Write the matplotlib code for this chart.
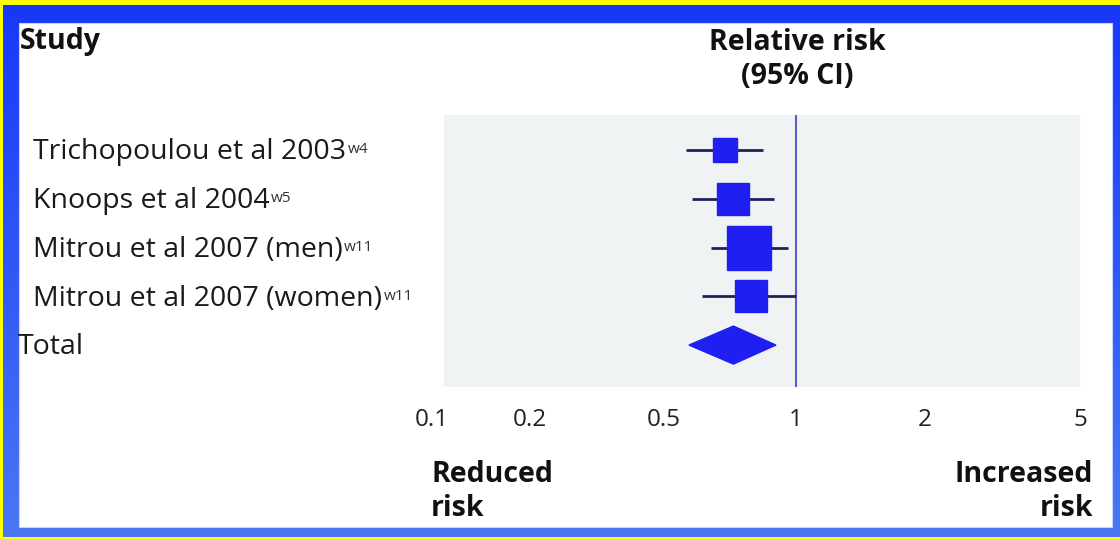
import numpy as np
import matplotlib
matplotlib.use("Agg")
import matplotlib.pyplot as plt
from matplotlib.patches import Rectangle, Polygon

# study rows: relative risk with 95% CI and % weight
studies = ["Trichopoulou et al 2003", "Knoops et al 2004",
           "Mitrou et al 2007 (men)", "Mitrou et al 2007 (women)"]
refs = ["w4", "w5", "w11", "w11"]
rr = [0.69, 0.72, 0.78, 0.79]
ci_low = [0.56, 0.58, 0.64, 0.61]
ci_high = [0.84, 0.89, 0.96, 1.00]
weights = [12.3, 23.2, 41.3, 23.2]

total_rr = 0.72
total_low = 0.57
total_high = 0.90

ticks = [0.1, 0.2, 0.5, 1, 2, 5]

W, H = 1120, 539
# where each tick sits across the figure (px), the axis is log-like but uneven
tick_px = [432, 530, 664, 796, 925, 1080]

BLUE = "#1f1ff2"
LINE = "#202060"
FONT = "Open Sans"


def pw(x, xs, ys):
    # piecewise linear with linear extrapolation at both ends
    x = np.asarray(x, dtype=float)
    y = np.interp(x, xs, ys)
    lo = x < xs[0]
    hi = x > xs[-1]
    s0 = (ys[1] - ys[0]) / (xs[1] - xs[0])
    s1 = (ys[-1] - ys[-2]) / (xs[-1] - xs[-2])
    y = np.where(lo, ys[0] + (x - xs[0]) * s0, y)
    y = np.where(hi, ys[-1] + (x - xs[-1]) * s1, y)
    return y


log_ticks = np.log10(ticks)


def fwd(v):
    return pw(np.log10(np.clip(v, 1e-9, None)), log_ticks, tick_px)


def inv(p):
    return 10 ** pw(p, tick_px, log_ticks)


def fx(px):
    return px / W


def fy(py):
    return 1 - py / H


fig = plt.figure(figsize=(W / 100, H / 100), dpi=100)
fig.patch.set_facecolor("#ffff00")

# blue frame with a slight vertical gradient, white card inside
bg = fig.add_axes([fx(3), 0.0 + 2 / H, 1 - 3 / W, 1 - 7 / H])
bg.axis("off")
grad = np.linspace(0, 1, 256).reshape(-1, 1)
cmap = matplotlib.colors.LinearSegmentedColormap.from_list("frame", ["#1838f8", "#4a78f2"])
bg.imshow(grad, aspect="auto", cmap=cmap, extent=[0, 1, 0, 1], origin="upper")
bg.set_xlim(0, 1)
bg.set_ylim(0, 1)
fig.patches.append(Rectangle((fx(19), fy(527)), fx(1112) - fx(19), fy(23) - fy(527),
                             transform=fig.transFigure, facecolor="white",
                             edgecolor="#c8d4ff", lw=0.8, zorder=1))

# main forest panel
ax = fig.add_axes([fx(420), fy(387), fx(1100) - fx(420), fy(115) - fy(387)])
ax.set_zorder(2)
ax.patch.set_alpha(0)
ax.set_xscale("function", functions=(fwd, inv))
ax.set_xlim(inv(420), inv(1100))
ax.set_ylim(4.86, -0.72)
ax.axvspan(inv(444), inv(1079), color="#f0f3f4", zorder=0)
ax.axvline(1, color="#5a5ec8", lw=1.5, zorder=1)

px_per_pt = 100 / 72
for i in range(len(studies)):
    ax.plot([ci_low[i], ci_high[i]], [i, i], color=LINE, lw=2.0, zorder=2,
            solid_capstyle="butt")
    side = 6.85 * np.sqrt(weights[i]) / px_per_pt
    ax.plot(rr[i], i, marker="s", ms=side, color=BLUE, mec=BLUE, zorder=3)

# pooled estimate as a diamond
yt = len(studies)
half_h = 0.39
ax.add_patch(Polygon([(total_low, yt), (total_rr, yt - half_h),
                      (total_high, yt), (total_rr, yt + half_h)],
                     closed=True, facecolor=BLUE, edgecolor=BLUE, zorder=3))

ax.set_xticks(ticks)
ax.set_xticklabels([f"{t:g}" for t in ticks], fontsize=17.5, family=FONT, color="#222222")
ax.xaxis.set_minor_locator(matplotlib.ticker.NullLocator())
ax.tick_params(axis="x", length=0, pad=15)
ax.set_yticks([])
for s in ax.spines.values():
    s.set_visible(False)

# headers and labels
bold = dict(family=FONT, fontweight="bold", fontsize=20.5, color="#111111")
fig.text(fx(20), fy(42), "Study", ha="left", va="center", **bold)
fig.text(fx(797), fy(42), "Relative risk", ha="center", va="center", **bold)
fig.text(fx(797), fy(76), "(95% CI)", ha="center", va="center", **bold)
fig.text(fx(431), fy(474), "Reduced", ha="left", va="center", **bold)
fig.text(fx(431), fy(508), "risk", ha="left", va="center", **bold)
fig.text(fx(1093), fy(474), "Increased", ha="right", va="center", **bold)
fig.text(fx(1093), fy(508), "risk", ha="right", va="center", **bold)

reg = dict(family=FONT, fontsize=20.5, color="#1a1a1a")
row_px = [152, 201, 250, 299]
for name, ref, py in zip(studies, refs, row_px):
    t = fig.text(fx(33), fy(py), name, ha="left", va="center", **reg)
    ax.annotate(ref, xy=(1, 1), xycoords=t, xytext=(1, -3), textcoords="offset points",
                ha="left", va="top", family=FONT, fontsize=11, color="#333333")
fig.text(fx(18), fy(347), "Total", ha="left", va="center", **reg)

fig.savefig("out.png", dpi=100, facecolor=fig.get_facecolor())
